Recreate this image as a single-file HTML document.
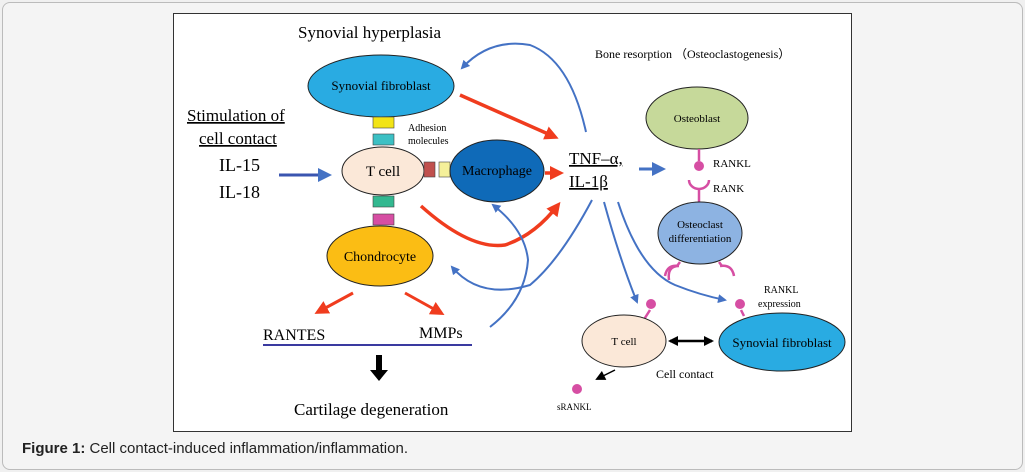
<!DOCTYPE html>
<html><head><meta charset="utf-8"><style>
body{margin:0;background:#fff;}
.w{position:relative;width:1025px;height:472px;background:#f0f0f0;overflow:hidden}
.b{position:absolute;left:2px;top:2px;width:1019px;height:466px;border:1px solid #bbb;border-radius:8px;background:#f4f4f4}
svg{position:absolute;left:0;top:0}
.cap{position:absolute;left:22px;top:440px;font:15px "Liberation Sans",sans-serif;color:#222}
</style></head><body><div class="w"><div class="b"></div>
<svg width="1025" height="472" font-family="Liberation Serif, serif">
<defs>
<marker id="rb" markerWidth="9" markerHeight="9" refX="7" refY="4.5" orient="auto" markerUnits="userSpaceOnUse"><path d="M0,0 L9,4.5 L0,9z" fill="#4472c4"/></marker>
<marker id="rr" markerWidth="14" markerHeight="14" refX="10" refY="7" orient="auto" markerUnits="userSpaceOnUse"><path d="M0,0 L14,7 L0,14z" fill="#f03c1e"/></marker>
<marker id="bb" markerWidth="14" markerHeight="14" refX="10" refY="7" orient="auto" markerUnits="userSpaceOnUse"><path d="M0,0 L14,7 L0,14z" fill="#4472c4"/></marker>
<marker id="k" markerWidth="10" markerHeight="10" refX="8" refY="5" orient="auto-start-reverse" markerUnits="userSpaceOnUse"><path d="M0,0 L10,5 L0,10z" fill="#000"/></marker>
</defs>
<rect x="173.5" y="13.5" width="678" height="418" fill="#fff" stroke="#333"/>
<text x="298" y="38" font-size="17">Synovial hyperplasia</text>
<text x="595" y="58" font-size="12">Bone resorption （Osteoclastogenesis）</text>
<ellipse cx="381" cy="86" rx="73" ry="31" fill="#29abe2" stroke="#222"/>
<text x="381" y="90" font-size="13" text-anchor="middle">Synovial  fibroblast</text>
<rect x="373" y="117" width="21" height="11" fill="#f2e416" stroke="#444" stroke-width=".6"/>
<rect x="373" y="134" width="21" height="11" fill="#3cc0c4" stroke="#444" stroke-width=".6"/>
<text x="408" y="131" font-size="10">Adhesion</text><text x="408" y="144" font-size="10">molecules</text>
<text x="187" y="121" font-size="17" text-decoration="underline">Stimulation of</text>
<text x="199" y="144" font-size="17" text-decoration="underline">cell contact</text>
<text x="219" y="171" font-size="18">IL-15</text><text x="219" y="198" font-size="18">IL-18</text>
<line x1="279" y1="175" x2="328" y2="175" stroke="#3a55b0" stroke-width="3" marker-end="url(#bb)"/>
<ellipse cx="383" cy="171" rx="41" ry="24" fill="#fbe8d8" stroke="#222"/>
<text x="383" y="176" font-size="15" text-anchor="middle">T cell</text>
<rect x="424" y="162" width="11" height="15" fill="#c0504d" stroke="#444" stroke-width=".6"/>
<rect x="439" y="162" width="11" height="15" fill="#f5f09a" stroke="#444" stroke-width=".6"/>
<ellipse cx="497" cy="171" rx="47" ry="31" fill="#0f6ab8" stroke="#222"/>
<text x="497" y="175" font-size="14" text-anchor="middle">Macrophage</text>
<rect x="373" y="196" width="21" height="11" fill="#33b890" stroke="#444" stroke-width=".6"/>
<rect x="373" y="214" width="21" height="11" fill="#d64ea3" stroke="#444" stroke-width=".6"/>
<ellipse cx="380" cy="256" rx="53" ry="30" fill="#fbbd14" stroke="#222"/>
<text x="380" y="261" font-size="14" text-anchor="middle">Chondrocyte</text>
<line x1="353" y1="293" x2="318" y2="312" stroke="#f03c1e" stroke-width="3" marker-end="url(#rr)"/>
<line x1="405" y1="293" x2="441" y2="313" stroke="#f03c1e" stroke-width="3" marker-end="url(#rr)"/>
<text x="263" y="340" font-size="16">RANTES</text><text x="419" y="338" font-size="16">MMPs</text>
<line x1="263" y1="345" x2="472" y2="345" stroke="#3a3aa0" stroke-width="2"/>
<path d="M376,355 v15 h-6 l9,11 l9,-11 h-6 v-15z" fill="#000"/>
<text x="294" y="415" font-size="17">Cartilage degeneration</text>
<path d="M460,95 L555,137" stroke="#f03c1e" stroke-width="3.5" fill="none" marker-end="url(#rr)"/>
<path d="M545,173 L560,173" stroke="#f03c1e" stroke-width="3.5" fill="none" marker-end="url(#rr)"/>
<path d="M421,206 Q470,250 505,245 Q535,235 558,205" stroke="#f03c1e" stroke-width="3.5" fill="none" marker-end="url(#rr)"/>
<path d="M586,132 Q570,60 530,45 Q490,38 462,68" stroke="#4472c4" stroke-width="2" fill="none" marker-end="url(#rb)"/>
<path d="M592,200 Q560,260 530,285 Q480,300 452,267" stroke="#4472c4" stroke-width="2" fill="none" marker-end="url(#rb)"/>
<path d="M490,327 Q525,300 528,260 Q525,230 493,205" stroke="#4472c4" stroke-width="2" fill="none" marker-end="url(#rb)"/>
<text x="569" y="164" font-size="17" text-decoration="underline">TNF–α,</text>
<text x="569" y="187" font-size="17" text-decoration="underline">IL-1β</text>
<line x1="639" y1="169" x2="662" y2="169" stroke="#4472c4" stroke-width="3" marker-end="url(#bb)"/>
<path d="M604,202 Q620,260 637,302" stroke="#4472c4" stroke-width="2" fill="none" marker-end="url(#rb)"/>
<path d="M618,202 Q640,270 675,285 Q700,295 725,300" stroke="#4472c4" stroke-width="2" fill="none" marker-end="url(#rb)"/>
<ellipse cx="697" cy="118" rx="51" ry="31" fill="#c6d99a" stroke="#222"/>
<text x="697" y="122" font-size="11" text-anchor="middle">Osteoblast</text>
<g stroke="#d64ea3" stroke-width="2.5" fill="none">
<line x1="699" y1="149" x2="699" y2="161"/><path d="M689,180 a10,9 0 0 0 20,0"/><line x1="699" y1="189" x2="699" y2="202"/>
<path d="M665,276 q2,-12 14,-10 M679,266 q-12,0 -10,14"/><line x1="677" y1="266" x2="680" y2="262"/>
<path d="M734,276 q-2,-12 -14,-10"/><line x1="722" y1="266" x2="719" y2="262"/>
<line x1="650" y1="310" x2="643" y2="321"/><line x1="741" y1="310" x2="744" y2="316"/>
</g>
<g fill="#d64ea3"><circle cx="699" cy="166" r="5"/><circle cx="651" cy="304" r="5"/><circle cx="740" cy="304" r="5"/><circle cx="577" cy="389" r="5"/></g>
<text x="713" y="167" font-size="11">RANKL</text><text x="713" y="192" font-size="11">RANK</text>
<ellipse cx="700" cy="233" rx="42" ry="31" fill="#8db3e2" stroke="#222"/>
<text x="700" y="228" font-size="11" text-anchor="middle">Osteoclast</text><text x="700" y="242" font-size="11" text-anchor="middle">differentiation</text>
<text x="764" y="293" font-size="10">RANKL</text><text x="758" y="307" font-size="10">expression</text>
<ellipse cx="624" cy="341" rx="42" ry="26" fill="#fbe8d8" stroke="#222"/>
<text x="624" y="345" font-size="11" text-anchor="middle">T cell</text>
<ellipse cx="782" cy="342" rx="63" ry="29" fill="#29abe2" stroke="#222"/>
<text x="782" y="347" font-size="13" text-anchor="middle">Synovial  fibroblast</text>
<line x1="670" y1="341" x2="712" y2="341" stroke="#000" stroke-width="2.5" marker-end="url(#k)" marker-start="url(#k)"/>
<text x="656" y="378" font-size="12">Cell contact</text>
<line x1="615" y1="370" x2="597" y2="379" stroke="#000" stroke-width="1.5" marker-end="url(#k)"/>
<text x="557" y="410" font-size="9">sRANKL</text>
</svg>
<div class="cap"><b>Figure 1:</b>  Cell contact-induced inflammation/inflammation.</div>
</div></body></html>
